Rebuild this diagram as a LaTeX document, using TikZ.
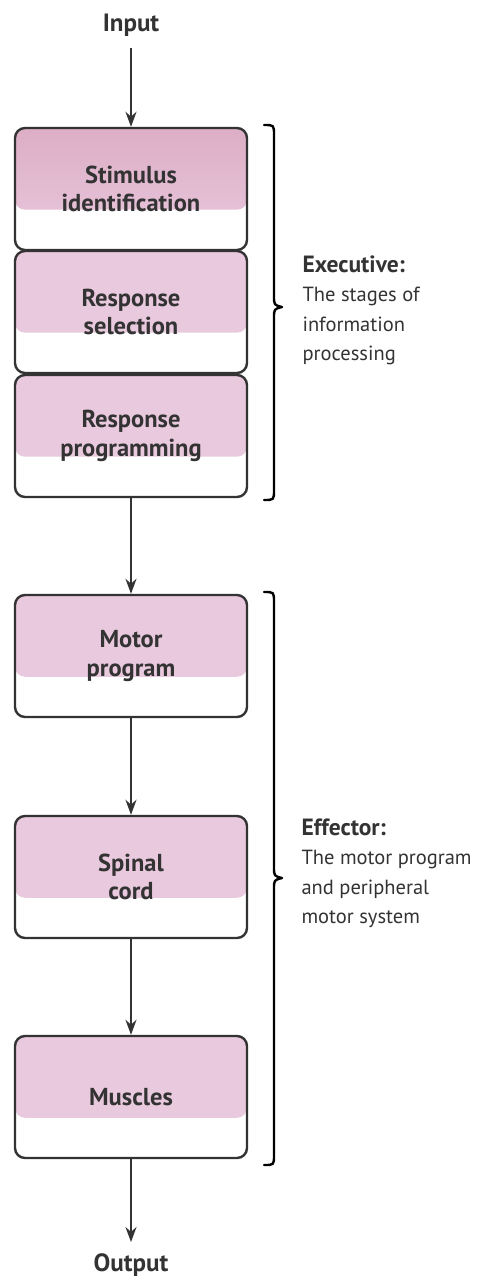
\documentclass[tikz,border=0pt]{standalone}
\usepackage{fontspec}
\setmainfont{PT Sans}
\usetikzlibrary{arrows.meta,calc}
\definecolor{ink}{HTML}{333333}
\definecolor{rose}{HTML}{E9C9DE}
\definecolor{rosedeep}{HTML}{DDAEC6}
\newcommand{\captionhead}[1]{{\bfseries\fontsize{23.5}{29.5}\selectfont #1}}
\tikzset{
  stagebox/.style={draw=ink, line width=2.4pt, rounded corners=10pt, fill=white,
    minimum width=232pt, minimum height=122pt, align=center, text=ink,
    font=\bfseries\fontsize{24.5}{28.5}\selectfont,
    path picture={
      \shade[top color=#1, bottom color=rose]
        (path picture bounding box.north west) rectangle
        ($(path picture bounding box.south east)!0.33!(path picture bounding box.north east)$);
    }},
  stagebox/.default=rose,
  flow/.style={draw=ink, line width=2.2pt, -{Stealth[length=15pt,width=11pt]}},
  endlabel/.style={text=ink, font=\bfseries\fontsize{25}{28}\selectfont},
  note/.style={text=ink, align=left, anchor=north west, font=\fontsize{20.5}{29.5}\selectfont},
  bracket/.style={draw=black, line width=2.4pt, line cap=round, line join=round}
}
\begin{document}
\begin{tikzpicture}[x=1pt,y=-1pt]
\useasboundingbox (0,0) rectangle (478,1278);

% information-processing stages
\node[endlabel] (in) at (131,25) {Input};
\node[stagebox=rosedeep] (stim) at (131,189) {Stimulus\\identification};
\node[stagebox] (sel) at (131,312) {Response\\selection};
\node[stagebox] (prog) at (131,436) {Response\\programming};

% effector chain
\node[stagebox] (motor) at (131,656) {Motor\\program};
\node[stagebox] (spinal) at (131,877) {Spinal\\cord};
\node[stagebox] (musc) at (131,1097) {Muscles};
\node[endlabel] (out) at (131,1265) {Output};

% connectors
\draw[flow] ([yshift=-8pt]in.south) -- (stim.north);
\draw[flow] (prog.south) -- (motor.north);
\draw[flow] (motor.south) -- (spinal.north);
\draw[flow] (spinal.south) -- (musc.north);
\draw[flow] (musc.south) -- ([yshift=8pt]out.north);

% group brackets
\coordinate (exTop) at (264,125);
\coordinate (exTip) at (282,307);
\coordinate (exBot) at (264,500);
\draw[bracket] (exTop) .. controls (274,125) .. (274,135) -- (274,296)
  .. controls (274,305) .. (exTip) .. controls (274,309) .. (274,318)
  -- (274,490) .. controls (274,500) .. (exBot);

\coordinate (efTop) at (264,592);
\coordinate (efTip) at (282,878);
\coordinate (efBot) at (264,1165);
\draw[bracket] (efTop) .. controls (274,592) .. (274,602) -- (274,867)
  .. controls (274,876) .. (efTip) .. controls (274,880) .. (274,889)
  -- (274,1155) .. controls (274,1165) .. (efBot);

% group captions
\node[note] (exNote) at (299,252) {\captionhead{Executive:}\\The stages of\\information\\processing};
\node[note] (efNote) at (298,815) {\captionhead{Effector:}\\The motor program\\and peripheral\\motor system};
\end{tikzpicture}
\end{document}
